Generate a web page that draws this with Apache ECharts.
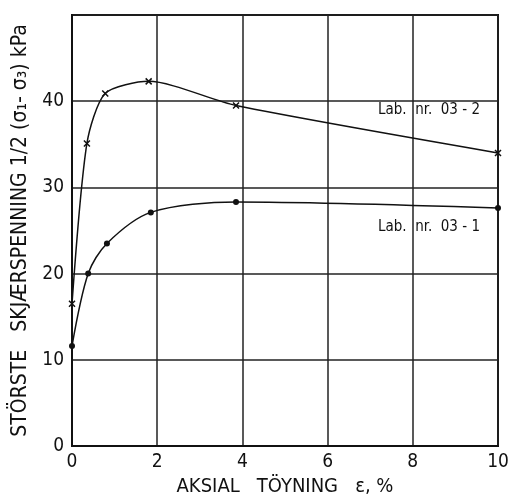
<!DOCTYPE html>
<html><head><meta charset="utf-8">
<script src="https://cdn.jsdelivr.net/npm/echarts@6/dist/echarts.min.js"></script>
<style>html,body{margin:0;padding:0;background:#fff}#c{width:509px;height:494px}</style>
</head><body><div id="c"></div>
<script>
const xTicks = [0, 2, 4, 6, 8, 10];
const yTicks = [0, 10, 20, 30, 40];
const strain032 = [0, 0.35, 0.78, 1.8, 3.85, 10];
const stress032 = [16.5, 35.1, 40.9, 42.3, 39.5, 34.0];
const strain031 = [0, 0.38, 0.82, 1.85, 3.85, 10];
const stress031 = [11.6, 20.0, 23.5, 27.1, 28.3, 27.6];
const label032 = 'Lab.  nr.  03 - 2';
const label031 = 'Lab.  nr.  03 - 1';

const font = '"DejaVu Sans Condensed", "DejaVu Sans", sans-serif';
const chart = echarts.init(document.getElementById('c'));
const crossPath = 'path://M0,0L10,10M10,0L0,10';
chart.setOption({
  animation: false,
  grid: { left: 72, right: 11, top: 15, bottom: 48, show: true, borderColor: '#111', borderWidth: 2,
          outerBoundsMode: 'none', containLabel: false },
  xAxis: {
    type: 'value', min: 0, max: 10, interval: 2,
    name: 'AKSIAL   TÖYNING   ε, %', nameLocation: 'middle', nameGap: 17,
    nameTextStyle: { fontFamily: font, fontSize: 20, color: '#111' },
    axisLine: { show: true, lineStyle: { color: '#111', width: 2 } },
    axisTick: { show: false },
    axisLabel: { fontFamily: font, fontSize: 19, color: '#111', margin: 7 },
    splitLine: { show: true, lineStyle: { color: '#222', width: 1.5 } }
  },
  yAxis: {
    type: 'value', min: 0, max: 50, interval: 10,
    name: 'STÖRSTE   SKJÆRSPENNING 1/2 (σ₁- σ₃) kPa', nameLocation: 'middle', nameGap: 40,
    nameRotate: 90,
    nameTextStyle: { fontFamily: font, fontSize: 21, color: '#111' },
    axisLine: { show: true, lineStyle: { color: '#111', width: 2 } },
    axisTick: { show: false },
    axisLabel: { fontFamily: font, fontSize: 19, color: '#111', margin: 8,
      formatter: v => yTicks.includes(v) ? String(v) : '' },
    splitLine: { show: true, lineStyle: { color: '#222', width: 1.5 } }
  },
  series: [
    {
      name: label032, type: 'line', smooth: 0.25,
      data: strain032.map((x, i) => [x, stress032[i]]),
      symbol: crossPath, symbolSize: 6,
      lineStyle: { color: '#111', width: 1.5 },
      itemStyle: { color: '#fff', borderColor: '#111', borderWidth: 1.5 }
    },
    {
      name: label031, type: 'line', smooth: 0.3,
      data: strain031.map((x, i) => [x, stress031[i]]),
      symbol: 'circle', symbolSize: 6,
      lineStyle: { color: '#111', width: 1.5 },
      itemStyle: { color: '#111' }
    }
  ],
  graphic: [
    { type: 'text', left: 378, top: 103, style: { text: label032, fontFamily: font, fontSize: 15, fill: '#111' } },
    { type: 'text', left: 378, top: 220, style: { text: label031, fontFamily: font, fontSize: 15, fill: '#111' } }
  ]
});
</script></body></html>
